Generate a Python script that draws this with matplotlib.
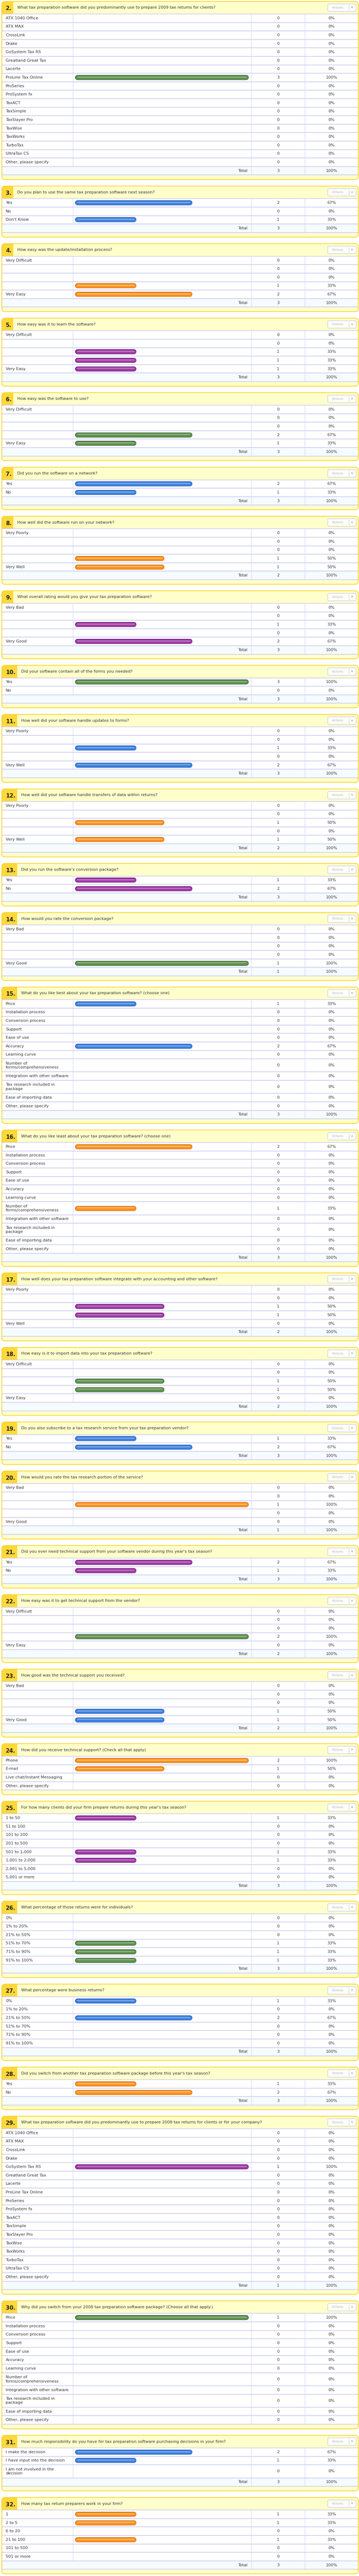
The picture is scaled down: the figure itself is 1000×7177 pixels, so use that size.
import matplotlib.pyplot as plt
from matplotlib.patches import FancyBboxPatch, Rectangle

# ---- answer option sets ----
SOFTWARE = ["ATX 1040 Office", "ATX MAX", "CrossLink", "Drake", "GoSystem Tax RS",
            "Greatland Great Tax", "Lacerte", "ProLine Tax Online", "ProSeries",
            "ProSystem fx", "TaxACT", "TaxSimple", "TaxSlayer Pro", "TaxWise",
            "TaxWorks", "TurboTax", "UltraTax CS", "Other, please specify"]
FEATURES = ["Price", "Installation process", "Conversion process", "Support",
            "Ease of use", "Accuracy", "Learning curve",
            "Number of\nforms/comprehensiveness", "Integration with other software",
            "Tax research included in\npackage", "Ease of importing data",
            "Other, please specify"]
YES_NO = ["Yes", "No"]
YES_NO_DK = ["Yes", "No", "Don't Know"]
DIFFICULT_EASY = ["Very Difficult", "", "", "", "Very Easy"]
POORLY_WELL = ["Very Poorly", "", "", "", "Very Well"]
BAD_GOOD = ["Very Bad", "", "", "", "Very Good"]
SUPPORT_CHANNELS = ["Phone", "E-mail", "Live chat/Instant Messaging", "Other, please specify"]
CLIENTS = ["1 to 50", "51 to 100", "101 to 200", "201 to 500", "501 to 1,000",
           "1,001 to 2,000", "2,001 to 5,000", "5,001 or more"]
PCT_RANGES = ["0%", "1% to 20%", "21% to 50%", "51% to 70%", "71% to 90%", "91% to 100%"]
RESPONSIBILITY = ["I make the decision", "I have input into the decision",
                  "I am not involved in the\ndecision"]
PREPARERS = ["1", "2 to 5", "6 to 20", "21 to 100", "101 to 500", "501 or more"]

# ---- questions ----
numbers = list(range(2, 33))
questions = [
    "What tax preparation software did you predominantly use to prepare 2009 tax returns for clients?",
    "Do you plan to use the same tax preparation software next season?",
    "How easy was the update/installation process?",
    "How easy was it to learn the software?",
    "How easy was the software to use?",
    "Did you run the software on a network?",
    "How well did the software run on your network?",
    "What overall rating would you give your tax preparation software?",
    "Did your software contain all of the forms you needed?",
    "How well did your software handle updates to forms?",
    "How well did your software handle transfers of data within returns?",
    "Did you run the software's conversion package?",
    "How would you rate the conversion package?",
    "What do you like best about your tax preparation software? (choose one)",
    "What do you like least about your tax preparation software? (choose one)",
    "How well does your tax preparation software integrate with your accounting and other software?",
    "How easy is it to import data into your tax preparation software?",
    "Do you also subscribe to a tax research service from your tax preparation vendor?",
    "How would you rate the tax research portion of the service?",
    "Did you ever need technical support from your software vendor during this year's tax season?",
    "How easy was it to get technical support from the vendor?",
    "How good was the technical support you received?",
    "How did you receive technical support? (Check all that apply)",
    "For how many clients did your firm prepare returns during this year's tax season?",
    "What percentage of those returns were for individuals?",
    "What percentage were business returns?",
    "Did you switch from another tax preparation software package before this year's tax season?",
    "What tax preparation software did you predominantly use to prepare 2008 tax returns for clients or for your company?",
    "Why did you switch from your 2008 tax preparation software package? (Choose all that apply.)",
    "How much responsibility do you have for tax preparation software purchasing decisions in your firm?",
    "How many tax return preparers work in your firm?",
]
options = [SOFTWARE, YES_NO_DK, DIFFICULT_EASY, DIFFICULT_EASY, DIFFICULT_EASY, YES_NO,
           POORLY_WELL, BAD_GOOD, YES_NO, POORLY_WELL, POORLY_WELL, YES_NO, BAD_GOOD,
           FEATURES, FEATURES, POORLY_WELL, DIFFICULT_EASY, YES_NO, BAD_GOOD, YES_NO,
           DIFFICULT_EASY, BAD_GOOD, SUPPORT_CHANNELS, CLIENTS, PCT_RANGES, PCT_RANGES,
           YES_NO, SOFTWARE, FEATURES, RESPONSIBILITY, PREPARERS]
counts = [
    [0, 0, 0, 0, 0, 0, 0, 3, 0, 0, 0, 0, 0, 0, 0, 0, 0, 0],
    [2, 0, 1],
    [0, 0, 0, 1, 2],
    [0, 0, 1, 1, 1],
    [0, 0, 0, 2, 1],
    [2, 1],
    [0, 0, 0, 1, 1],
    [0, 0, 1, 0, 2],
    [3, 0],
    [0, 0, 1, 0, 2],
    [0, 0, 1, 0, 1],
    [1, 2],
    [0, 0, 0, 0, 1],
    [1, 0, 0, 0, 0, 2, 0, 0, 0, 0, 0, 0],
    [2, 0, 0, 0, 0, 0, 0, 1, 0, 0, 0, 0],
    [0, 0, 1, 1, 0],
    [0, 0, 1, 1, 0],
    [1, 2],
    [0, 0, 1, 0, 0],
    [2, 1],
    [0, 0, 0, 2, 0],
    [0, 0, 0, 1, 1],
    [2, 1, 0, 0],
    [1, 0, 0, 0, 1, 1, 0, 0],
    [0, 0, 0, 1, 1, 1],
    [1, 0, 2, 0, 0, 0],
    [1, 2],
    [0, 0, 0, 0, 1, 0, 0, 0, 0, 0, 0, 0, 0, 0, 0, 0, 0, 0],
    [1, 0, 0, 0, 0, 0, 0, 0, 0, 0, 0, 0],
    [2, 1, 0],
    [1, 1, 0, 1, 0, 0],
]
respondents = [3, 3, 3, 3, 3, 3, 2, 3, 3, 3, 2, 3, 1, 3, 3, 2, 2, 3, 1, 3, 2, 2, 2,
               3, 3, 3, 3, 1, 1, 3, 3]
show_total = [n not in (24, 30) for n in numbers]

# ---- colours ----
COLOR_CYCLE = ["green", "blue", "orange", "purple"]
BAR_COLORS = {  # edge, fill, highlight
    "green": ("#3d6a33", "#5e8e50", "#94b985"),
    "blue": ("#2561b9", "#3d7fda", "#82b2ef"),
    "orange": ("#df6b08", "#f6901f", "#fcc46f"),
    "purple": ("#72197b", "#9b3ba1", "#c57ec9"),
}
HEADER_BG = "#ffffcc"
BADGE_BG = "#ffd83a"
BORDER = "#f9d31c"
GRID = "#c9c9f2"
VGRID = "#d8d8f6"
TOTAL_BG = "#f5fbff"
TEXT = "#333333"

# ---- layout (pixels) ----
W, H = 1000, 7177
BOX_L, BOX_R = 5, 998
COL_BAR, COL_CNT, COL_PCT = 203, 700, 849
BAR_ZERO, BAR_FULL = 216, 686
TOP0 = 4
HEAD_H = 35
ROW_H = 23.6
TALL_H = 36.3
FOOT_H = 12.8
GAP = 18.2

plt.rcParams["font.family"] = ["DejaVu Sans"]
FS = 8.1

fig = plt.figure(figsize=(W / 100, H / 100), dpi=100)
ax = fig.add_axes([0, 0, 1, 1])
ax.set_xlim(0, W)
ax.set_ylim(H, 0)
ax.axis("off")

# bar column: its own x scale in percent
px_per_pct = (BAR_FULL - BAR_ZERO) / 100
bax = fig.add_axes([COL_BAR / W, 0, (COL_CNT - COL_BAR) / W, 1])
bax.set_xlim((COL_BAR - BAR_ZERO) / px_per_pct, (COL_CNT - BAR_ZERO) / px_per_pct)
bax.set_ylim(H, 0)
bax.axis("off")

bar_y = {c: [] for c in COLOR_CYCLE}
bar_v = {c: [] for c in COLOR_CYCLE}

y = TOP0
for qi, num in enumerate(numbers):
    opts = options[qi]
    cnts = counts[qi]
    heights = [TALL_H if "\n" in o else ROW_H for o in opts]
    if show_total[qi]:
        heights.append(ROW_H)
    rows_h = sum(heights)
    box_h = HEAD_H + rows_h + FOOT_H
    color = COLOR_CYCLE[qi % 4]

    box = FancyBboxPatch((BOX_L, y), BOX_R - BOX_L, box_h,
                         boxstyle="round,pad=0,rounding_size=9",
                         fc=HEADER_BG, ec="none", zorder=1)
    ax.add_patch(box)
    badge_w = 32 if num < 10 else 43
    badge = Rectangle((BOX_L, y), badge_w, HEAD_H, fc=BADGE_BG, ec="none", zorder=2)
    ax.add_patch(badge)
    badge.set_clip_path(box)

    hc = y + HEAD_H / 2
    ax.text(BOX_L + 11, hc + 2.5, f"{num}.", fontsize=11, fontweight="bold",
            color="#222222", va="center", ha="left", zorder=5)
    ax.text(BOX_L + badge_w + 11, hc, questions[qi], fontsize=FS, color=TEXT,
            va="center", ha="left", zorder=5)

    # actions button
    ax.add_patch(FancyBboxPatch((913, hc - 10.5), 79, 21,
                                boxstyle="round,pad=0,rounding_size=3",
                                fc="#fffff4", ec="#c4c8ee", lw=1.0, zorder=3))
    ax.text(941, hc, "Actions", fontsize=6.3, color="#a9b0e2", ha="center",
            va="center", zorder=5)
    ax.plot([972, 972], [hc - 7, hc + 7], color="#c4c8ee", lw=0.8, zorder=4)
    ax.text(981, hc, "\u25bc", fontsize=5, color="#a9b0e2", ha="center",
            va="center", zorder=5)

    # table body
    t0 = y + HEAD_H
    ax.add_patch(Rectangle((BOX_L + 1, t0), BOX_R - BOX_L - 2, rows_h,
                           fc="white", ec="none", zorder=2))
    ax.plot([BOX_L, BOX_R], [t0, t0], color=GRID, lw=1.2, zorder=3)

    ry = t0
    for ri, h in enumerate(heights):
        rc = ry + h / 2
        is_total = show_total[qi] and ri == len(heights) - 1
        if is_total:
            ax.add_patch(Rectangle((BOX_L + 1, ry), BOX_R - BOX_L - 2, h,
                                   fc=TOTAL_BG, ec="none", zorder=2.5))
            ax.text(COL_CNT - 11, rc, "Total", fontsize=FS, color=TEXT,
                    ha="right", va="center", zorder=5)
            ax.text((COL_CNT + COL_PCT) / 2, rc, str(respondents[qi]), fontsize=FS,
                    color=TEXT, ha="center", va="center", zorder=5)
            ax.text((COL_PCT + BOX_R) / 2, rc, "100%", fontsize=FS, color=TEXT,
                    ha="center", va="center", zorder=5)
        else:
            ax.plot([COL_BAR, COL_BAR], [ry, ry + h], color=VGRID, lw=1.0, zorder=3)
            ax.text(BOX_L + 11, rc, opts[ri], fontsize=FS, color=TEXT, ha="left",
                    va="center", linespacing=1.2, zorder=5)
            pct = round(cnts[ri] / respondents[qi] * 100)
            ax.text((COL_CNT + COL_PCT) / 2, rc, str(cnts[ri]), fontsize=FS,
                    color=TEXT, ha="center", va="center", zorder=5)
            ax.text((COL_PCT + BOX_R) / 2, rc, f"{pct}%", fontsize=FS, color=TEXT,
                    ha="center", va="center", zorder=5)
            if cnts[ri] > 0:
                bar_y[color].append(rc)
                bar_v[color].append(cnts[ri] / respondents[qi] * 100)
        for xv in (COL_CNT, COL_PCT):
            ax.plot([xv, xv], [ry, ry + h], color=VGRID, lw=1.0, zorder=3)
        ry += h
        ax.plot([BOX_L, BOX_R], [ry, ry], color=GRID, lw=1.3, zorder=3)

    ax.add_patch(FancyBboxPatch((BOX_L, y), BOX_R - BOX_L, box_h,
                                boxstyle="round,pad=0,rounding_size=9",
                                fc="none", ec=BORDER, lw=1.4, zorder=6))
    y += box_h + GAP

# glossy rounded bars
for c in COLOR_CYCLE:
    edge, fill, hi = BAR_COLORS[c]
    ys = bar_y[c]
    vs = bar_v[c]
    bax.hlines(ys, 0, vs, colors=edge, linewidth=9.9, capstyle="round", zorder=2)
    bax.hlines(ys, 0, vs, colors=fill, linewidth=7.8, capstyle="round", zorder=3)
    bax.hlines([v - 1.2 for v in ys], 0, vs, colors=hi, linewidth=2.6,
               capstyle="round", alpha=0.8, zorder=4)

fig.savefig("out.png", dpi=100)
